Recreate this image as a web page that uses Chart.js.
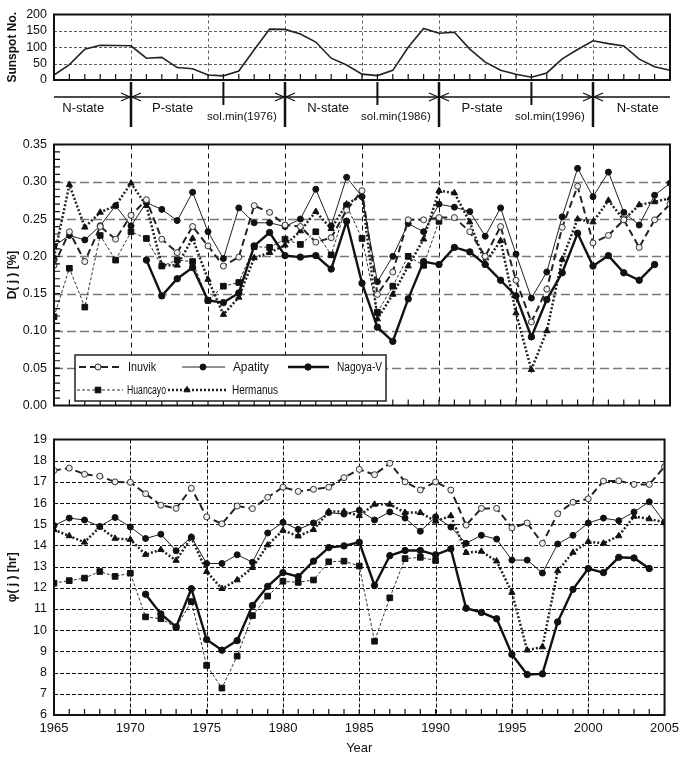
<!DOCTYPE html>
<html>
<head>
<meta charset="utf-8">
<script src="https://cdn.jsdelivr.net/npm/chart.js@4.4.0/dist/chart.umd.min.js"></script>
<style>
  html, body { margin: 0; padding: 0; background: #fff; }
  #wrap { position: relative; width: 685px; height: 758px; }
  canvas { position: absolute; left: 0; }
</style>
</head>
<body>
<div id="wrap">
  <canvas id="sunspot" width="685" height="135" style="top:0px"></canvas>
  <canvas id="dj" width="685" height="290" style="top:130px"></canvas>
  <canvas id="phi" width="685" height="333" style="top:425px"></canvas>
</div>
<script>
// years on the x axis
const years = [1965, 1966, 1967, 1968, 1969, 1970, 1971, 1972, 1973, 1974,
               1975, 1976, 1977, 1978, 1979, 1980, 1981, 1982, 1983, 1984,
               1985, 1986, 1987, 1988, 1989, 1990, 1991, 1992, 1993, 1994,
               1995, 1996, 1997, 1998, 1999, 2000, 2001, 2002, 2003, 2004, 2005];

// top panel: yearly sunspot number
const sunspot = [15.1, 47.0, 93.8, 105.9, 105.5, 104.5, 66.6, 68.9, 38.0, 34.5,
                 15.5, 12.6, 27.5, 92.5, 155.4, 154.6, 140.5, 115.9, 66.6, 45.9,
                 17.9, 13.4, 29.4, 100.2, 157.6, 142.6, 145.7, 94.3, 54.6, 29.9,
                 17.5, 8.6, 21.5, 64.3, 93.3, 119.6, 111.0, 104.0, 63.7, 40.4, 29.8];

// strip under the top panel
const stateBounds = [1970, 1980, 1990, 2000];
const solarMinYears = [1976, 1986, 1996];
const stateLabels = ['N-state', 'P-state', 'N-state', 'P-state', 'N-state'];
const stateLabelYears = [1966.9, 1972.7, 1982.8, 1992.8, 2002.9];
const solMinLabels = ['sol.min(1976)', 'sol.min(1986)', 'sol.min(1996)'];
const solMinLabelYears = [1977.2, 1987.2, 1997.2];

// middle panel: D(j) [%]
const inuvikD = [0.188, 0.233, 0.193, 0.240, 0.223, 0.255, 0.276, 0.223, 0.205, 0.240,
                 0.214, 0.187, 0.199, 0.268, 0.259, 0.242, 0.240, 0.219, 0.225, 0.262,
                 0.288, 0.149, 0.179, 0.249, 0.249, 0.252, 0.252, 0.233, 0.200, 0.240,
                 0.168, 0.112, 0.156, 0.239, 0.294, 0.218, 0.228, 0.249, 0.212, 0.249, 0.270];
const apatityD = [0.214, 0.228, 0.222, 0.241, 0.268, 0.241, 0.272, 0.263, 0.248, 0.286,
                  0.233, 0.197, 0.265, 0.245, 0.245, 0.240, 0.250, 0.290, 0.241, 0.306,
                  0.280, 0.166, 0.200, 0.244, 0.233, 0.270, 0.266, 0.260, 0.227, 0.265,
                  0.203, 0.144, 0.179, 0.253, 0.318, 0.280, 0.313, 0.259, 0.242, 0.282, 0.298];
const nagoyaD = [null, null, null, null, null, null, 0.195, 0.147, 0.170, 0.185,
                 0.141, 0.138, 0.151, 0.214, 0.232, 0.201, 0.199, 0.201, 0.183, 0.247,
                 0.164, 0.105, 0.086, 0.143, 0.193, 0.189, 0.212, 0.206, 0.189, 0.168,
                 0.147, 0.092, 0.142, 0.178, 0.231, 0.187, 0.201, 0.178, 0.168, 0.189, null];
const huancayoD = [0.119, 0.184, 0.132, 0.228, 0.195, 0.233, 0.224, 0.187, 0.195, 0.193,
                   0.141, 0.160, 0.165, 0.213, 0.212, 0.223, 0.216, 0.233, 0.202, 0.268,
                   0.224, 0.125, 0.160, 0.200, 0.188, 0.247, null, null, null, null,
                   null, null, null, null, null, null, null, null, null, null, null];
const hermanusD = [0.199, 0.296, 0.239, 0.259, 0.268, 0.298, 0.268, 0.188, 0.188, 0.224,
                   0.169, 0.122, 0.145, 0.198, 0.205, 0.215, 0.234, 0.260, 0.237, 0.270,
                   0.282, 0.116, 0.149, 0.187, 0.223, 0.288, 0.285, 0.246, 0.191, 0.221,
                   0.124, 0.048, 0.100, 0.196, 0.250, 0.246, 0.275, 0.249, 0.269, 0.273, 0.278];

// bottom panel: phi(j) [hr]
const inuvikP = [17.54, 17.65, 17.36, 17.27, 17.00, 16.98, 16.44, 15.90, 15.75, 16.70,
                 15.35, 15.02, 15.86, 15.74, 16.27, 16.75, 16.55, 16.65, 16.75, 17.20,
                 17.59, 17.34, 17.88, 17.00, 16.62, 17.00, 16.62, 14.96, 15.75, 15.75,
                 14.83, 15.06, 14.10, 15.50, 16.04, 16.20, 17.04, 17.05, 16.88, 16.88, 17.72];
const apatityP = [14.94, 15.29, 15.20, 14.90, 15.32, 14.87, 14.33, 14.53, 13.75, 14.40,
                  13.15, 13.15, 13.56, 13.21, 14.59, 15.09, 14.76, 15.06, 15.55, 15.48,
                  15.66, 15.20, 15.58, 15.29, 14.67, 15.35, 14.87, 14.10, 14.48, 14.30,
                  13.31, 13.31, 12.70, 14.07, 14.48, 15.06, 15.29, 15.17, 15.58, 16.06, 15.09];
const nagoyaP = [null, null, null, null, null, null, 11.70, 10.77, 10.16, 11.96,
                 9.56, 9.06, 9.51, 11.17, 12.07, 12.72, 12.53, 13.26, 13.90, 13.98,
                 14.15, 12.11, 13.52, 13.76, 13.76, 13.56, 13.84, 11.04, 10.84, 10.54,
                 8.86, 7.91, 7.94, 10.39, 11.93, 12.91, 12.72, 13.44, 13.41, 12.91, null];
const huancayoP = [12.22, 12.34, 12.46, 12.77, 12.54, 12.69, 10.63, 10.54, 10.13, 11.35,
                   8.34, 7.27, 8.78, 10.69, 11.61, 12.31, 12.26, 12.37, 13.23, 13.26,
                   13.03, 9.48, 11.53, 13.38, 13.44, 13.29, null, null, null, null,
                   null, null, null, null, null, null, null, null, null, null, null];
const hermanusP = [14.74, 14.45, 14.15, 14.87, 14.33, 14.28, 13.57, 13.80, 13.29, 14.38,
                   12.76, 11.96, 12.37, 12.95, 14.02, 14.71, 14.44, 14.74, 15.60, 15.60,
                   15.40, 15.94, 15.94, 15.55, 15.55, 15.14, 15.40, 13.66, 13.72, 13.26,
                   11.78, 9.06, 9.21, 12.80, 13.67, 14.18, 14.10, 14.45, 15.37, 15.25, 15.09];

const seriesNames = ['Inuvik', 'Apatity', 'Nagoya-V', 'Huancayo', 'Hermanus'];

const FONT = '"Liberation Sans", Arial, sans-serif';
Chart.defaults.font.family = FONT;
Chart.defaults.color = '#111';

function pts(vals) {
    return years.map((yr, i) => ({ x: yr, y: vals[i] }));
}

// line look of each station
const looks = [
    { borderColor: '#222', borderWidth: 2, borderDash: [7, 4], pointStyle: 'circle', pointRadius: 3,
      pointBackgroundColor: '#eee', pointBorderColor: '#333', pointBorderWidth: 1 },
    { borderColor: '#222', borderWidth: 1, pointStyle: 'circle', pointRadius: 3,
      pointBackgroundColor: '#111', pointBorderColor: '#111', pointBorderWidth: 1 },
    { borderColor: '#111', borderWidth: 2.4, pointStyle: 'circle', pointRadius: 3.2,
      pointBackgroundColor: '#111', pointBorderColor: '#111', pointBorderWidth: 1 },
    { borderColor: '#333', borderWidth: 1, borderDash: [3, 2], pointStyle: 'rect', pointRadius: 4,
      pointBackgroundColor: '#111', pointBorderColor: '#111', pointBorderWidth: 1 },
    { borderColor: '#222', borderWidth: 2.5, borderDash: [2, 2], pointStyle: 'triangle', pointRadius: 3.6,
      pointBackgroundColor: '#111', pointBorderColor: '#111', pointBorderWidth: 1 }
];

function stationSets(list) {
    return list.map((vals, i) => Object.assign({
        label: seriesNames[i],
        data: pts(vals),
        tension: 0,
        spanGaps: false,
        fill: false
    }, looks[i]));
}

// dashed grid lines drawn at the scales' own ticks
const gridPlugin = {
    id: 'dashGrid',
    beforeDatasetsDraw(chart, args, opts) {
        const { ctx, chartArea: a, scales: { x, y } } = chart;
        ctx.save();
        ctx.strokeStyle = opts.xColor;
        ctx.lineWidth = opts.xWidth;
        ctx.setLineDash(opts.xDash);
        x.ticks.forEach(t => {
            const px = Math.round(x.getPixelForValue(t.value)) + 0.5;
            if (px <= a.left + 1 || px >= a.right - 1) return;
            ctx.beginPath();
            ctx.moveTo(px, a.top);
            ctx.lineTo(px, a.bottom);
            ctx.stroke();
        });
        ctx.strokeStyle = opts.yColor;
        ctx.lineWidth = opts.yWidth;
        ctx.setLineDash(opts.yDash);
        y.ticks.forEach(t => {
            const py = Math.round(y.getPixelForValue(t.value)) + 0.5;
            if (py <= a.top + 1 || py >= a.bottom - 1) return;
            ctx.beginPath();
            ctx.moveTo(a.left, py);
            ctx.lineTo(a.right, py);
            ctx.stroke();
        });
        ctx.restore();
    }
};

// frame, inward year ticks and minor y ticks
const framePlugin = {
    id: 'frame',
    afterDraw(chart, args, opts) {
        const { ctx, chartArea: a, scales } = chart;
        ctx.save();
        ctx.strokeStyle = '#111';
        ctx.lineWidth = 1.2;
        ctx.setLineDash([]);
        ctx.beginPath();
        years.forEach(yr => {
            const px = scales.x.getPixelForValue(yr);
            ctx.moveTo(px, a.bottom);
            ctx.lineTo(px, a.bottom - 6);
        });
        if (opts.yMinor) {
            const y = scales.y;
            const n = Math.round((y.max - y.min) / opts.yMinor);
            for (let k = 1; k < n; k++) {
                const py = y.getPixelForValue(y.min + k * opts.yMinor);
                ctx.moveTo(a.left, py);
                ctx.lineTo(a.left + 6, py);
            }
        }
        ctx.stroke();
        ctx.lineWidth = 2;
        ctx.strokeRect(a.left, a.top, a.right - a.left, a.bottom - a.top);
        ctx.restore();
    }
};

// N-state / P-state strip under the sunspot panel
const stripPlugin = {
    id: 'strip',
    afterDraw(chart) {
        const { ctx, chartArea: a, scales: { x } } = chart;
        const lineY = a.bottom + 17;
        ctx.save();
        ctx.strokeStyle = '#111';
        ctx.fillStyle = '#111';
        ctx.lineWidth = 1.5;
        ctx.beginPath();
        ctx.moveTo(a.left, lineY);
        ctx.lineTo(a.right, lineY);
        ctx.stroke();
        stateBounds.forEach(yr => {
            const px = x.getPixelForValue(yr);
            ctx.lineWidth = 2.5;
            ctx.beginPath();
            ctx.moveTo(px, a.bottom + 2);
            ctx.lineTo(px, a.bottom + 47);
            ctx.stroke();
            ctx.lineWidth = 1.2;
            ctx.beginPath();
            ctx.moveTo(px - 10, lineY - 4); ctx.lineTo(px - 1, lineY); ctx.lineTo(px - 10, lineY + 4);
            ctx.moveTo(px + 10, lineY - 4); ctx.lineTo(px + 1, lineY); ctx.lineTo(px + 10, lineY + 4);
            ctx.stroke();
        });
        ctx.lineWidth = 2;
        solarMinYears.forEach(yr => {
            const px = x.getPixelForValue(yr);
            ctx.beginPath();
            ctx.moveTo(px, a.bottom + 2);
            ctx.lineTo(px, a.bottom + 25);
            ctx.stroke();
        });
        ctx.textAlign = 'center';
        ctx.textBaseline = 'middle';
        ctx.font = '13px ' + FONT;
        stateLabels.forEach((t, i) => ctx.fillText(t, x.getPixelForValue(stateLabelYears[i]), a.bottom + 28, 43));
        ctx.font = '11.5px ' + FONT;
        solMinLabels.forEach((t, i) => ctx.fillText(t, x.getPixelForValue(solMinLabelYears[i]), a.bottom + 37, 72));
        ctx.restore();
    }
};

// legend box inside the D(j) panel
const legendSpots = [
    { ds: 0, y: 237, x1: 79, x2: 122, mx: 98, tx: 128, w: 28 },
    { ds: 1, y: 237, x1: 182, x2: 225, mx: 203, tx: 233, w: 36 },
    { ds: 2, y: 237, x1: 288, x2: 329, mx: 308, tx: 337, w: 45 },
    { ds: 3, y: 260, x1: 77, x2: 123, mx: 98, tx: 127, w: 39 },
    { ds: 4, y: 260, x1: 168, x2: 228, mx: 187, tx: 232, w: 46 }
];
const legendPlugin = {
    id: 'boxLegend',
    afterDraw(chart) {
        const ctx = chart.ctx;
        ctx.save();
        ctx.fillStyle = '#fff';
        ctx.fillRect(75, 225, 311, 46);
        ctx.strokeStyle = '#222';
        ctx.lineWidth = 1.5;
        ctx.strokeRect(75, 225, 311, 46);
        legendSpots.forEach(s => {
            const d = chart.data.datasets[s.ds];
            ctx.strokeStyle = d.borderColor;
            ctx.lineWidth = d.borderWidth;
            ctx.setLineDash(d.borderDash || []);
            ctx.beginPath();
            ctx.moveTo(s.x1, s.y);
            ctx.lineTo(s.x2, s.y);
            ctx.stroke();
            ctx.setLineDash([]);
            ctx.fillStyle = d.pointBackgroundColor;
            ctx.strokeStyle = d.pointBorderColor;
            ctx.lineWidth = 1;
            Chart.helpers.drawPoint(ctx, { pointStyle: d.pointStyle, radius: d.pointRadius, rotation: 0, borderWidth: 1 }, s.mx, s.y);
            ctx.fillStyle = '#111';
            ctx.font = '12px ' + FONT;
            ctx.textAlign = 'left';
            ctx.textBaseline = 'middle';
            ctx.fillText(d.label, s.tx, s.y + 1, s.w);
        });
        ctx.restore();
    }
};

function xAxis(showLabels) {
    return {
        type: 'linear', min: 1965, max: 2005,
        grid: { display: false, drawTicks: false },
        border: { display: false },
        ticks: { display: showLabels, stepSize: 5, autoSkip: false, maxRotation: 0, padding: 6,
                 font: { size: 13 }, callback: v => String(v) },
        title: showLabels ? { display: true, text: 'Year', font: { size: 13 }, padding: { top: 0, bottom: 2 } } : { display: false },
        afterFit: s => { s.height = showLabels ? 43 : 0; }
    };
}

function yAxis(min, max, step, title, fmt) {
    return {
        min: min, max: max,
        grid: { display: false, drawTicks: false },
        border: { display: false },
        ticks: { stepSize: step, padding: 7, font: { size: 12.5 }, callback: fmt },
        title: { display: true, text: title, font: { size: 12, weight: 'bold' }, padding: { top: 5, bottom: 0 } },
        afterFit: s => { s.width = 54; }
    };
}

function baseOptions(pad, xa, ya, extra) {
    return {
        responsive: false,
        animation: false,
        devicePixelRatio: 1,
        layout: { padding: pad },
        plugins: Object.assign({ legend: { display: false }, tooltip: { enabled: false } }, extra),
        scales: { x: xa, y: ya }
    };
}

new Chart(document.getElementById('sunspot'), {
    type: 'line',
    data: { datasets: [{ data: pts(sunspot), borderColor: '#222', borderWidth: 1.6, pointRadius: 0, tension: 0, fill: false }] },
    options: baseOptions({ top: 4, right: 15, bottom: 55, left: 0 },
        xAxis(false), yAxis(0, 200, 50, 'Sunspot No.', v => String(v)),
        { frame: {}, dashGrid: { xColor: '#333', xWidth: 0.8, xDash: [3, 3], yColor: '#333', yWidth: 0.8, yDash: [3, 2] } }),
    plugins: [gridPlugin, framePlugin, stripPlugin]
});

new Chart(document.getElementById('dj'), {
    type: 'line',
    data: { datasets: stationSets([inuvikD, apatityD, nagoyaD, huancayoD, hermanusD]) },
    options: baseOptions({ top: 7, right: 15, bottom: 5, left: 0 },
        xAxis(false), yAxis(0, 0.35, 0.05, 'D( j ) [%]', v => v.toFixed(2)),
        { frame: { yMinor: 0.01 }, dashGrid: { xColor: '#111', xWidth: 1, xDash: [5, 4], yColor: '#777', yWidth: 1.4, yDash: [9, 4] } }),
    plugins: [gridPlugin, framePlugin, legendPlugin]
});

new Chart(document.getElementById('phi'), {
    type: 'line',
    data: { datasets: stationSets([inuvikP, apatityP, nagoyaP, huancayoP, hermanusP]) },
    options: baseOptions({ top: 6, right: 15, bottom: 0, left: 0 },
        xAxis(true), yAxis(6, 19, 1, 'φ( j ) [hr]', v => String(v)),
        { frame: {}, dashGrid: { xColor: '#111', xWidth: 1, xDash: [4, 2], yColor: '#111', yWidth: 1, yDash: [4, 2] } }),
    plugins: [gridPlugin, framePlugin]
});
</script>
</body>
</html>
